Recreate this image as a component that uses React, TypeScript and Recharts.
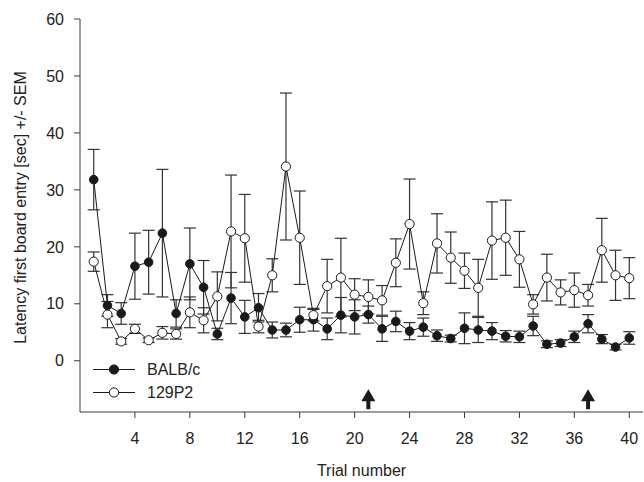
import React from "react";
import {
  LineChart,
  Line,
  XAxis,
  YAxis,
  ErrorBar,
  ReferenceDot,
} from "recharts";

const trials = [
  1, 2, 3, 4, 5, 6, 7, 8, 9, 10, 11, 12, 13, 14, 15, 16, 17, 18, 19, 20,
  21, 22, 23, 24, 25, 26, 27, 28, 29, 30, 31, 32, 33, 34, 35, 36, 37, 38, 39, 40,
];

const balbMean = [
  31.8, 9.7, 8.3, 16.6, 17.3, 22.4, 8.3, 17.0, 12.9, 4.7,
  11.0, 7.7, 9.3, 5.4, 5.4, 7.2, 7.2, 5.6, 8.0, 7.7,
  8.1, 5.6, 6.9, 5.2, 5.9, 4.4, 3.9, 5.7, 5.4, 5.2,
  4.3, 4.2, 6.1, 2.9, 3.1, 4.2, 6.5, 3.8, 2.4, 4.0,
];
const balbSem = [
  5.3, 1.9, 1.9, 5.8, 5.6, 11.2, 2.4, 6.3, 4.7, 1.0,
  4.5, 2.9, 2.5, 1.4, 1.2, 2.2, 2.0, 1.9, 3.1, 3.0,
  1.5, 2.2, 1.8, 1.5, 1.6, 1.0, 0.6, 2.7, 2.2, 1.5,
  1.0, 1.0, 1.7, 0.6, 0.6, 1.0, 1.6, 0.8, 0.5, 1.1,
];

const p129Mean = [
  17.4, 8.1, 3.4, 5.6, 3.6, 4.9, 4.7, 8.5, 7.1, 11.3,
  22.7, 21.5, 6.0, 15.0, 34.1, 21.6, 8.0, 13.1, 14.6, 11.6,
  11.2, 10.6, 17.2, 24.0, 10.1, 20.6, 18.1, 15.8, 12.8, 21.1,
  21.6, 17.8, 9.9, 14.6, 12.0, 12.4, 11.5, 19.4, 15.0, 14.5,
];
const p129Sem = [
  1.7, 2.3, 0.5, 0.8, 0.4, 1.1, 0.9, 2.7, 2.2, 4.3,
  9.9, 7.7, 1.1, 2.9, 12.9, 8.2, 1.0, 4.7, 6.9, 2.8,
  3.0, 2.6, 4.2, 7.9, 2.0, 5.2, 4.5, 3.1, 5.0, 6.8,
  6.6, 4.9, 1.7, 4.1, 2.2, 3.0, 1.9, 5.6, 4.4, 3.6,
];

const xTicks = [4, 8, 12, 16, 20, 24, 28, 32, 36, 40];
const yTicks = [0, 10, 20, 30, 40, 50, 60];
const arrowTrials = [21, 37];

const data = trials.map((t, i) => ({
  trial: t,
  balb: balbMean[i],
  balbErr: balbSem[i],
  p129: p129Mean[i],
  p129Err: p129Sem[i],
}));

const FONT = "'Liberation Sans', Arial, Helvetica, sans-serif";
const INK = "#1a1a1a";
const AXIS = "#3a3a3a";

// upward arrow whose tip sits at (cx, cy)
const Arrow = ({ cx, cy }: { cx?: number; cy?: number }) => {
  if (cx == null || cy == null) return null;
  return (
    <g fill={INK} stroke="none">
      <polygon points={`${cx},${cy} ${cx - 7},${cy + 12} ${cx + 7},${cy + 12}`} />
      <rect x={cx - 2} y={cy + 11} width={4} height={9} />
    </g>
  );
};

const legendRows = [
  { label: "BALB/c", fill: INK },
  { label: "129P2", fill: "#fff" },
];

// legend sits over the lower-left corner of the plot
const LegendBox = () => (
  <div
    style={{
      position: "absolute",
      left: 92,
      top: 358,
      fontFamily: FONT,
      fontSize: 16,
      color: "#222",
    }}
  >
    {legendRows.map((r) => (
      <div key={r.label} style={{ display: "flex", alignItems: "center", height: 23 }}>
        <svg width={44} height={23}>
          <line x1={1} y1={11.5} x2={43} y2={11.5} stroke={INK} strokeWidth={1} />
          <circle cx={22} cy={11.5} r={4.6} fill={r.fill} stroke={INK} strokeWidth={1} />
        </svg>
        <span style={{ marginLeft: 11, lineHeight: "23px" }}>{r.label}</span>
      </div>
    ))}
  </div>
);

const YTitle = ({ viewBox }: any) => {
  const cy = viewBox.y + viewBox.height / 2 - 8;
  return (
    <text
      x={20}
      y={cy}
      transform={`rotate(-90, 20, ${cy})`}
      textAnchor="middle"
      dominantBaseline="central"
      fontFamily={FONT}
      fontSize={16}
      fill="#222"
    >
      Latency first board entry [sec] +/- SEM
    </text>
  );
};

export default function App() {
  return (
    <div style={{ position: "absolute", left: 0, top: 0, width: 644, height: 482, background: "#fff" }}>
      <LineChart
        width={644}
        height={482}
        data={data}
        margin={{ top: 19, right: 1, bottom: 0, left: 0 }}
      >
        <XAxis
          dataKey="trial"
          type="number"
          domain={[0, 41]}
          ticks={xTicks}
          height={70}
          tickSize={6}
          tickMargin={15}
          stroke={AXIS}
          tick={{ fill: "#222", fontSize: 16, fontFamily: FONT }}
          label={{
            value: "Trial number",
            position: "insideBottom",
            offset: 6,
            fill: "#222",
            fontSize: 16,
            fontFamily: FONT,
          }}
        />
        <YAxis
          type="number"
          domain={[-9, 60]}
          ticks={yTicks}
          width={80}
          tickSize={6}
          tickMargin={10}
          stroke={AXIS}
          tick={{ fill: "#222", fontSize: 16, fontFamily: FONT }}
          label={{ content: YTitle }}
        />
        <Line
          dataKey="balb"
          name="BALB/c"
          stroke={INK}
          strokeWidth={1}
          dot={{ r: 4.3, fill: INK, stroke: INK, strokeWidth: 1 }}
          isAnimationActive={false}
        >
          <ErrorBar dataKey="balbErr" width={6} stroke="#333" strokeWidth={1.2} direction="y" isAnimationActive={false} />
        </Line>
        <Line
          dataKey="p129"
          name="129P2"
          stroke={INK}
          strokeWidth={1}
          dot={{ r: 4.6, fill: "#fff", stroke: INK, strokeWidth: 1 }}
          isAnimationActive={false}
        >
          <ErrorBar dataKey="p129Err" width={6} stroke="#333" strokeWidth={1.2} direction="y" isAnimationActive={false} />
        </Line>
        {arrowTrials.map((t) => (
          <ReferenceDot key={t} x={t} y={-5} r={0} shape={<Arrow />} />
        ))}
      </LineChart>
      <LegendBox />
    </div>
  );
}
